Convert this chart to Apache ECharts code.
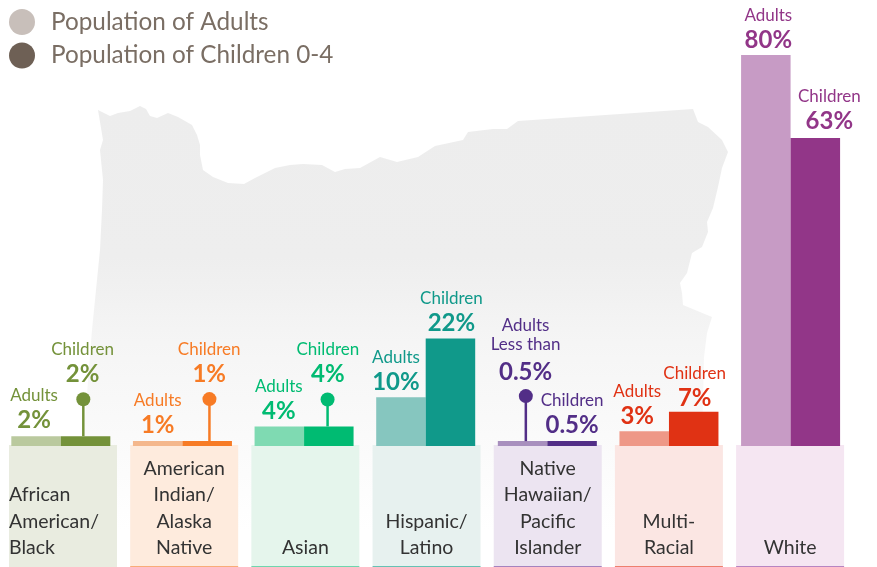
<!DOCTYPE html>
<html>
<head>
<meta charset="utf-8">
<script src="https://cdn.jsdelivr.net/npm/echarts@6/dist/echarts.min.js"></script>
<style>html,body{margin:0;padding:0;background:#fff}#c{width:877px;height:567px}</style>
</head>
<body>
<div id="c"></div>
<script>
// ---- data ----
const categories = ['African\nAmerican/\nBlack', 'American\nIndian/\nAlaska\nNative', 'Asian', 'Hispanic/\nLatino', 'Native\nHawaiian/\nPacific\nIslander', 'Multi-\nRacial', 'White'];
const adultValues = [2, 1, 4, 10, 0.5, 3, 80];
const childValues = [2, 1, 4, 22, 0.5, 7, 63];
const adultText = ['2%', '1%', '4%', '10%', '0.5%', '3%', '80%'];
const childText = ['2%', '1%', '4%', '22%', '0.5%', '7%', '63%'];
const adultName = 'Population of Adults';
const childName = 'Population of Children 0-4';

// ---- styles ----
const adultColors = ['#BAC99E', '#F4B78C', '#7FDAB2', '#86C6BF', '#A88FBE', '#EE9887', '#C79BC5'];
const childColors = ['#74923A', '#F77B25', '#00BB72', '#10998A', '#522E87', '#E03214', '#923688'];
const panelColors = ['#E9ECE0', '#FEEBDD', '#E5F5EC', '#E7F1EF', '#ECE4F1', '#FBE6E3', '#F5E6F2'];
const stripColors = ['#E9ECE0', '#F9AC78', '#6FD6AE', '#66C2B4', '#A583BF', '#EE7F6E', '#B785C2'];
const FONT = 'Lato';

// ---- label / pin layout (pixels) ----
const adultNudge = [[-2, -1], [0, -1], [-0.5, 0], [-5, 0], [3, -50], [-7, 0], [2.5, 0]];
const childNudge = [[-3, -47], [2, -52], [-1, -37], [1, 0], [0, -1], [1, 1.5], [14, -2]];
const pins = [
  { cat: 0, series: 'child', dx: 22.5, stem: 37 },
  { cat: 1, series: 'child', dx: 27, stem: 42 },
  { cat: 2, series: 'child', dx: 23.5, stem: 27 },
  { cat: 4, series: 'adult', dx: -21.5, stem: 45 }
];
const mapOutline = [[98,110],[110,116],[118,113],[130,111],[140,106],[146,109],[150,116],[157,118],[168,113],[178,117],[192,125],[197,135],[200,145],[200,155],[203,170],[213,177],[228,183],[244,184],[255,178],[275,168],[290,165],[303,164],[322,165],[335,172],[345,169],[360,168],[380,157],[397,162],[418,157],[435,146],[463,140],[468,132],[493,129],[507,129],[518,121],[693,109],[698,122],[708,127],[722,140],[728,152],[722,168],[718,187],[713,208],[707,222],[708,232],[702,247],[692,253],[687,273],[680,283],[682,293],[683,305],[712,317],[707,333],[704,357],[700,530],[76,530],[85,420],[92,330],[100,250],[102,210],[103,180],[100,150],[103,140]];

function pctLabel(top, pct, color, nudge, extraLine) {
  const lines = ['{a|' + top + '}'];
  if (extraLine) lines.push('{a|' + extraLine + '}');
  lines.push((extraLine ? '{bb|' : '{b|') + pct + '}');
  return {
    show: true, position: 'top', distance: 0, offset: nudge,
    formatter: lines.join('\n'),
    rich: {
      a: { fontFamily: FONT, fontSize: 17, lineHeight: 19, color: color, align: 'center' },
      b: { fontFamily: FONT, fontSize: 24, fontWeight: 'bold', lineHeight: 30, color: color, align: 'center' },
      bb: { fontFamily: FONT, fontSize: 24, fontWeight: 'bold', lineHeight: 37, color: color, align: 'center' }
    }
  };
}

const adultData = adultValues.map((v, i) => ({
  value: v,
  itemStyle: { color: adultColors[i] },
  label: pctLabel('Adults', adultText[i], childColors[i], adultNudge[i], i === 4 ? 'Less than' : null)
}));
const childData = childValues.map((v, i) => ({
  value: v,
  itemStyle: { color: childColors[i] },
  label: pctLabel('Children', childText[i], childColors[i], childNudge[i])
}));

const chart = echarts.init(document.getElementById('c'), null, { renderer: 'canvas' });
chart.setOption({
  animation: false,
  backgroundColor: '#fff',
  legend: {
    data: [adultName, childName], orient: 'vertical', left: 4, top: 4, itemGap: 7.5,
    itemWidth: 26, itemHeight: 26, icon: 'circle',
    selectedMode: false,
    textStyle: { fontFamily: FONT, fontSize: 24.3, color: '#7A6E64', padding: [0, 0, 0, 11] }
  },
  graphic: [{
    type: 'polygon', silent: true, z: 0,
    shape: { points: mapOutline },
    style: { fill: new echarts.graphic.LinearGradient(0, 110, 0, 530, [
      { offset: 0, color: '#EDEDED' }, { offset: 0.35, color: '#EEEEEE' }, { offset: 0.55, color: '#F5F5F5' }, { offset: 1, color: '#FFFFFF' }
    ], true) }
  }],
  grid: [
    { left: -1.6, width: 853, top: 55, height: 391 },
    { left: 2.4, width: 848.3, top: 445, height: 122 }
  ],
  xAxis: [
    { type: 'category', gridIndex: 0, data: categories, show: false },
    { type: 'category', gridIndex: 1, data: categories, show: false }
  ],
  yAxis: [
    { type: 'value', gridIndex: 0, min: 0, max: 80, show: false },
    { type: 'value', gridIndex: 1, min: 0, max: 122, show: false }
  ],
  series: [
    {
      type: 'bar', name: 'strip', xAxisIndex: 1, yAxisIndex: 1, stack: 'panel', barWidth: 108, silent: true,
      data: stripColors.map(c => ({ value: 1, itemStyle: { color: c } }))
    },
    {
      type: 'bar', name: 'panel', xAxisIndex: 1, yAxisIndex: 1, stack: 'panel', barWidth: 108, silent: true,
      data: panelColors.map((c, i) => ({
        value: 121,
        itemStyle: { color: c },
        label: {
          show: true, position: 'insideBottom', distance: 5,
          formatter: categories[i], fontFamily: FONT, fontSize: 19.5, lineHeight: 26.5, color: '#333333',
          align: i === 0 ? 'left' : 'center',
          offset: i === 0 ? [-54, 0] : [0, 0]
        }
      }))
    },
    {
      type: 'bar', name: adultName, xAxisIndex: 0, yAxisIndex: 0, barWidth: 49.5, barGap: '0%', barMinHeight: 5,
      itemStyle: { color: '#C8BFBA' }, data: adultData
    },
    {
      type: 'bar', name: childName, xAxisIndex: 0, yAxisIndex: 0, barWidth: 49.5, barGap: '0%', barMinHeight: 5,
      itemStyle: { color: '#6E6055' }, data: childData
    },
    {
      type: 'custom', name: 'pins', xAxisIndex: 0, yAxisIndex: 0, silent: true, z: 3,
      data: pins.map((p, k) => [p.cat, p.series === 'child' ? childValues[p.cat] : adultValues[p.cat], k]),
      renderItem: function (params, api) {
        const p = pins[api.value(2)];
        const pt = api.coord([api.value(0), Math.max(api.value(1), 1)]);
        const x = pt[0] + p.dx, y = pt[1], top = y - p.stem;
        const color = childColors[p.cat];
        return {
          type: 'group',
          children: [
            { type: 'line', shape: { x1: x, y1: y, x2: x, y2: top }, style: { stroke: color, lineWidth: 2.5 } },
            { type: 'circle', shape: { cx: x, cy: top, r: 7 }, style: { fill: color } }
          ]
        };
      }
    }
  ]
});
</script>
</body>
</html>
